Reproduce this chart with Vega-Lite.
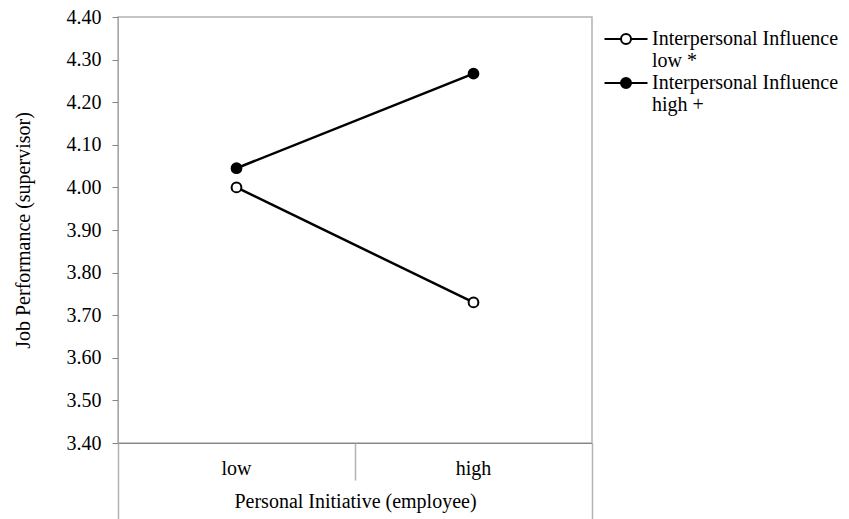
{
  "$schema": "https://vega.github.io/schema/vega-lite/v6.json",
  "width": 474,
  "height": 426,
  "autosize": {"type": "none"},
  "padding": {"left": 118, "top": 17, "right": 257, "bottom": 76},
  "background": "white",
  "config": {
    "font": "Liberation Serif",
    "view": {"stroke": "#b3b3b3", "strokeWidth": 1.5}
  },
  "data": {
    "values": [
      {"initiative": "low", "influence": "low *", "performance": 4.0},
      {"initiative": "high", "influence": "low *", "performance": 3.73},
      {"initiative": "low", "influence": "high +", "performance": 4.045},
      {"initiative": "high", "influence": "high +", "performance": 4.267}
    ]
  },
  "encoding": {
    "y": {
      "field": "performance",
      "type": "quantitative",
      "scale": {"domain": [3.4, 4.4], "nice": false, "zero": false},
      "axis": {
        "values": [3.4, 3.5, 3.6, 3.7, 3.8, 3.9, 4.0, 4.1, 4.2, 4.3, 4.4],
        "format": ".2f",
        "grid": false,
        "tickSize": 6,
        "tickColor": "#868686",
        "domainColor": "#a6a6a6",
        "labelFont": "Liberation Serif",
        "labelFontSize": 20,
        "labelColor": "black",
        "labelPadding": 11,
        "title": "Job Performance (supervisor)",
        "titleFont": "Liberation Serif",
        "titleFontSize": 20,
        "titleFontWeight": "normal",
        "titleColor": "black",
        "titlePadding": 33
      }
    }
  },
  "layer": [
    {
      "mark": {"type": "line", "color": "black", "strokeWidth": 2.5},
      "encoding": {
        "x": {
          "field": "initiative",
          "type": "nominal",
          "sort": ["low", "high"],
          "scale": {"type": "band", "paddingInner": 0, "paddingOuter": 0},
          "axis": {
            "orient": "bottom",
            "ticks": false,
            "tickSize": 0,
            "domain": true,
            "domainColor": "#868686",
            "labelFont": "Liberation Serif",
            "labelFontSize": 20,
            "labelColor": "black",
            "labelPadding": 15,
            "labelAngle": 0,
            "title": "Personal Initiative (employee)",
            "titleFont": "Liberation Serif",
            "titleFontSize": 20,
            "titleFontWeight": "normal",
            "titleColor": "black",
            "titleY": 48,
            "titleBaseline": "top"
          }
        },
        "detail": {"field": "influence", "type": "nominal"}
      }
    },
    {
      "mark": {"type": "point", "filled": true, "opacity": 1, "stroke": "black", "strokeWidth": 2, "size": 95},
      "encoding": {
        "x": {
          "field": "initiative",
          "type": "nominal",
          "sort": ["low", "high"],
          "scale": {"type": "band", "paddingInner": 0, "paddingOuter": 0},
          "axis": {
            "orient": "bottom",
            "labels": false,
            "domain": false,
            "title": null,
            "bandPosition": 0,
            "tickColor": "#b3b3b3",
            "tickWidth": 1.5,
            "tickSize": {"condition": {"test": "datum.value === 'low'", "value": 76}, "value": 37}
          }
        },
        "fill": {
          "field": "influence",
          "type": "nominal",
          "scale": {"domain": ["low *", "high +"], "range": ["white", "black"]},
          "legend": {
            "orient": "none",
            "legendX": 498,
            "legendY": 12,
            "title": null,
            "padding": 0,
            "symbolType": "M-4.3,0L-1,0M1,0L4.3,0M1,0A1,1,0,1,1,-1,0A1,1,0,1,1,1,0Z",
            "symbolSize": 100,
            "symbolStrokeColor": "black",
            "symbolStrokeWidth": 2,
            "labelFont": "Liberation Serif",
            "labelFontSize": 20,
            "labelColor": "black",
            "labelBaseline": "middle",
            "labelLimit": 400,
            "labelOffset": 16,
            "rowPadding": 2,
            "labelExpr": "['Interpersonal Influence', datum.label]"
          }
        }
      }
    },
    {
      "mark": {"type": "point", "opacity": 0},
      "encoding": {
        "x": {
          "field": "initiative",
          "type": "nominal",
          "sort": ["low", "high"],
          "scale": {"type": "band", "paddingInner": 0, "paddingOuter": 0},
          "axis": {
            "orient": "bottom",
            "labels": false,
            "domain": false,
            "title": null,
            "bandPosition": 1,
            "tickColor": "#b3b3b3",
            "tickWidth": 1.5,
            "tickSize": 76,
            "tickOpacity": {"condition": {"test": "datum.value === 'high'", "value": 1}, "value": 0}
          }
        }
      }
    }
  ],
  "resolve": {"axis": {"x": "independent"}}
}
